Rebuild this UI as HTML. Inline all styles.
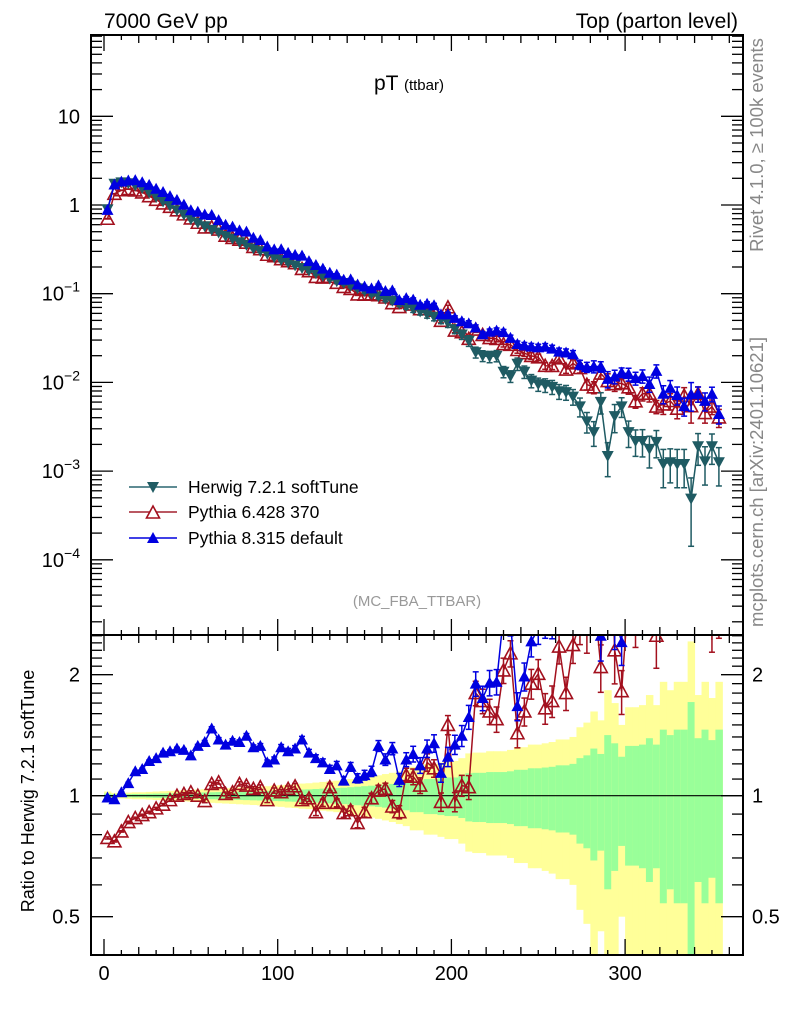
<!DOCTYPE html>
<html><head><meta charset="utf-8"><style>
html,body{margin:0;padding:0;background:#fff;width:786px;height:1024px;overflow:hidden}
svg{display:block;font-family:"Liberation Sans",sans-serif}
</style></head><body>
<svg id="chart" width="786" height="1024" viewBox="0 0 786 1024" xmlns="http://www.w3.org/2000/svg">
<defs>
<clipPath id="clipMain"><rect x="91" y="35" width="652" height="600"/></clipPath>
<clipPath id="clipRatio"><rect x="91" y="635" width="652" height="320"/></clipPath>
</defs>
<g id="bands" clip-path="url(#clipRatio)"></g>
<g id="ticks"></g>
<line x1="91" y1="795.7" x2="743" y2="795.7" stroke="#000" stroke-width="1.2"/>
<g id="mainMarks" clip-path="url(#clipMain)"></g>
<g id="ratioMarks" clip-path="url(#clipRatio)"></g>
<rect x="91" y="35" width="652" height="600" fill="none" stroke="#000" stroke-width="2"/>
<rect x="91" y="635" width="652" height="320" fill="none" stroke="#000" stroke-width="2"/>
<text x="104" y="28" font-size="21">7000 GeV pp</text>
<text x="738" y="28" font-size="21" text-anchor="end">Top (parton level)</text>
<text x="374" y="90" font-size="21">pT <tspan font-size="15">(ttbar)</tspan></text>
<text x="417" y="606" font-size="15" fill="#999" text-anchor="middle">(MC_FBA_TTBAR)</text>
<text transform="translate(763,145) rotate(-90)" font-size="18.5" fill="#888" text-anchor="middle">Rivet 4.1.0, ≥ 100k events</text>
<text transform="translate(763,482) rotate(-90)" font-size="18.5" fill="#888" text-anchor="middle">mcplots.cern.ch [arXiv:2401.10621]</text>
<text transform="translate(34,791) rotate(-90)" font-size="18" text-anchor="middle">Ratio to Herwig 7.2.1 softTune</text>
<g id="legend">
<g><line x1="129" y1="487" x2="177" y2="487" stroke="#2a6670" stroke-width="1.5"/><polygon points="147,482 159,482 153,493" fill="#1f5b63"/><text x="188" y="493" font-size="17.5">Herwig 7.2.1 softTune</text></g>
<g><line x1="129" y1="512" x2="177" y2="512" stroke="#a3202e" stroke-width="1.5"/><polygon points="153,506 146.5,518 159.5,518" fill="#fff" stroke="#a3101e" stroke-width="1.6"/><text x="188" y="518" font-size="17.5">Pythia 6.428 370</text></g>
<g><line x1="129" y1="538" x2="177" y2="538" stroke="#0000dd" stroke-width="1.5"/><polygon points="153,532 147,543 159,543" fill="#0000e0"/><text x="188" y="544" font-size="17.5">Pythia 8.315 default</text></g>
</g>
</svg>
<script>
const binCenters = [2,6,10,14,18,22,26,30,34,38,42,46,50,54,58,62,66,70,74,78,82,86,90,94,98,102,106,110,114,118,122,126,130,134,138,142,146,150,154,158,162,166,170,174,178,182,186,190,194,198,202,206,210,214,218,222,226,230,234,238,242,246,250,254,258,262,266,270,274,278,282,286,290,294,298,302,306,310,314,318,322,326,330,334,338,342,346,350,354];
const herwigLog = [-0.05,0.24,0.255,0.245,0.22,0.19,0.14,0.09,0.04,-0.01,-0.06,-0.11,-0.16,-0.20,-0.24,-0.28,-0.31,-0.35,-0.38,-0.42,-0.45,-0.49,-0.52,-0.55,-0.59,-0.62,-0.65,-0.68,-0.71,-0.74,-0.77,-0.80,-0.83,-0.86,-0.88,-0.91,-0.94,-0.97,-1.00,-1.03,-1.06,-1.08,-1.11,-1.14,-1.17,-1.20,-1.23,-1.26,-1.29,-1.33,-1.40,-1.46,-1.53,-1.66,-1.70,-1.71,-1.70,-1.88,-1.93,-1.79,-1.88,-1.98,-2.02,-2.03,-2.05,-2.10,-2.11,-2.16,-2.27,-2.44,-2.56,-2.22,-2.83,-2.38,-2.27,-2.56,-2.66,-2.66,-2.75,-2.67,-2.92,-2.90,-2.92,-2.92,-3.31,-2.72,-2.89,-2.72,-2.90];
const py6Ratio = [0.785,0.77,0.815,0.86,0.88,0.895,0.91,0.93,0.95,0.975,1.0,1.01,1.02,1.0,0.97,1.07,1.08,1.01,1.02,1.07,1.06,1.04,1.05,0.975,1.03,1.02,1.04,1.055,0.975,0.985,0.91,0.96,1.05,0.96,0.905,0.92,0.855,0.91,0.985,1.03,1.04,0.94,0.91,1.125,1.115,1.06,1.21,1.17,0.965,1.50,0.965,1.06,1.05,1.80,1.72,1.62,1.55,2.05,2.26,1.43,1.62,1.90,2.01,1.65,1.72,2.35,1.80,2.37,2.7,2.6,3.2,2.09,7.0,2.3,1.82,3.2,2.8,3.4,4.2,2.5,4.7,4.9,4.2,5.9,11,3.9,3.5,2.8,3.2];
const py8Ratio = [0.99,0.98,1.02,1.075,1.15,1.165,1.22,1.24,1.28,1.29,1.31,1.30,1.26,1.33,1.36,1.47,1.38,1.34,1.37,1.36,1.41,1.32,1.33,1.21,1.23,1.32,1.29,1.31,1.38,1.28,1.24,1.21,1.165,1.19,1.09,1.18,1.105,1.125,1.15,1.33,1.23,1.31,1.095,1.23,1.27,1.19,1.31,1.35,1.14,1.25,1.34,1.41,1.57,1.90,1.75,1.91,1.92,2.8,2.7,1.67,1.98,2.42,2.6,2.7,2.7,2.8,2.8,3.0,2.95,4.1,5.5,2.5,7.4,2.8,2.41,4.5,5.1,5.4,5.4,6.3,6.2,6.9,6.0,4.5,15,3.9,4.8,3.9,3.5];
const herwigRelErr = [0.012,0.008,0.008,0.009,0.01,0.01,0.011,0.012,0.013,0.014,0.015,0.016,0.017,0.018,0.019,0.02,0.021,0.022,0.023,0.024,0.025,0.026,0.027,0.028,0.03,0.031,0.033,0.034,0.036,0.037,0.039,0.041,0.043,0.045,0.047,0.05,0.053,0.056,0.059,0.062,0.066,0.07,0.075,0.08,0.09,0.09,0.10,0.10,0.105,0.11,0.11,0.12,0.137,0.14,0.14,0.145,0.145,0.145,0.15,0.16,0.16,0.17,0.17,0.175,0.18,0.19,0.19,0.2,0.24,0.26,0.31,0.27,0.415,0.35,0.25,0.33,0.33,0.34,0.39,0.34,0.46,0.415,0.46,0.46,0.71,0.39,0.46,0.375,0.46];
const pythiaErrScale = 0.5;
const binWidth = 4;
const xTickLabels = ["0","100","200","300"];
const xTickValues = [0,100,200,300];

const NS="http://www.w3.org/2000/svg";
const X = v => 104 + 1.737*v;
const YM = v => 205 - 88.7*Math.log10(v);
const YR = r => 795.7 - 121*Math.log2(r);
function mk(tag, attrs, parent){const e=document.createElementNS(NS,tag);for(const k in attrs)e.setAttribute(k,attrs[k]);parent.appendChild(e);return e;}

const herwig = herwigLog.map(l=>Math.pow(10,l));
const py6 = herwig.map((h,i)=>h*py6Ratio[i]);
const py8 = herwig.map((h,i)=>h*py8Ratio[i]);
const pyErr = herwigRelErr.map(e=>e*pythiaErrScale);
const clampR = y => Math.max(630, Math.min(955, y));
const clampM = y => Math.max(30, Math.min(640, y));

const bands=document.getElementById('bands');
binCenters.forEach((c,i)=>{
  const e=herwigRelErr[i];
  const x0=X(c-binWidth/2), x1=X(c+binWidth/2);
  const yhi2 = clampR(YR(1+2*e));
  const ylo2 = 1-2*e>0.01 ? clampR(YR(1-2*e)) : 955;
  const r1=mk('rect',{x:x0,y:yhi2,width:x1-x0+0.5,height:ylo2-yhi2,fill:'#ffff99'},bands);
  
  
  const yhi1 = clampR(YR(1+e)), ylo1 = clampR(YR(1-e));
  const r2=mk('rect',{x:x0,y:yhi1,width:x1-x0+0.5,height:ylo1-yhi1,fill:'#99ff99'},bands);
  
  
});

const tk=document.getElementById('ticks');
function tline(x1,y1,x2,y2){mk('line',{x1,y1,x2,y2,stroke:'#000','stroke-width':1.3},tk);}
for(let v=0; v<=360; v+=10){
  const x=X(v); const L = v%100===0?16:(v%20===0?8:5);
  tline(x,35,x,35+L); tline(x,635,x,635-L); tline(x,635,x,635+L); tline(x,955,x,955-L);
}
xTickValues.forEach((v,i)=>{
  const t=mk('text',{x:X(v),y:980,'font-size':20,'text-anchor':'middle'},tk);
  t.textContent=xTickLabels[i];
  
  
});
for(let d=-5; d<=1; d++){
  for(let m=1;m<=9;m++){
    const v=m*Math.pow(10,d); const y=YM(v);
    if(y<35||y>635) continue;
    const L = m===1?22:11;
    tline(91,y,91+L,y); tline(743,y,743-L,y);
  }
}
[[1,'1'],[10,'10']].forEach(([v,s])=>{const t=mk('text',{x:80,y:YM(v)+7,'font-size':20,'text-anchor':'end'},tk);t.textContent=s;
  
  });
[-1,-2,-3,-4].forEach(p=>{const t=mk('text',{x:80,y:YM(Math.pow(10,p))+7,'font-size':20,'text-anchor':'end'},tk);
  t.innerHTML='10<tspan dy="-9" font-size="14">−'+(-p)+'</tspan>';
  
  });
for(let r=0.4;r<=2.55;r+=0.1){
  const rr=Math.round(r*10)/10; const y=YR(rr);
  if(y<635||y>955) continue;
  const maj = (rr===0.5||rr===1||rr===2);
  const L = maj?22:11;
  tline(91,y,91+L,y); tline(743,y,743-L,y);
}
[[2,'2'],[1,'1'],[0.5,'0.5']].forEach(([v,s])=>{
  const t=mk('text',{x:80,y:YR(v)+7,'font-size':20,'text-anchor':'end'},tk);t.textContent=s;
  
  
  const t2=mk('text',{x:752,y:YR(v)+7,'font-size':20},tk);t2.textContent=s;
  
  
});

function marker(g,x,y,kind,color){
  let p;
  if(kind==='down') p=mk('polygon',{points:`${x-6},${y-5} ${x+6},${y-5} ${x},${y+6}`,fill:color},g);
  else if(kind==='upHollow') p=mk('polygon',{points:`${x},${y-6.5} ${x-6.5},${y+5.5} ${x+6.5},${y+5.5}`,fill:'none',stroke:color,'stroke-width':1.6},g);
  else p=mk('polygon',{points:`${x},${y-6} ${x-6},${y+5} ${x+6},${y+5}`,fill:color},g);
  return p;
}
function drawSeries(parentId,vals,errs,Yf,clamp,kind,color,name){
  const parent=document.getElementById(parentId);
  const g=mk('g',{},parent);
  
  
  const pts=binCenters.map((c,i)=>X(c).toFixed(1)+','+Yf(vals[i]).toFixed(1)).join(' ');
  mk('polyline',{points:pts,fill:'none',stroke:color,'stroke-width':1.5},g);
  binCenters.forEach((c,i)=>{
    const x=X(c), v=vals[i], e=errs[i]*v;
    const yt=clamp(Yf(v+e)), yb=clamp(Yf(Math.max(v-e,v*0.01)));
    mk('line',{x1:x,y1:yt,x2:x,y2:yb,stroke:color,'stroke-width':1.5},g);
    mk('line',{x1:x-3,y1:yt,x2:x+3,y2:yt,stroke:color,'stroke-width':1.5},g);
    mk('line',{x1:x-3,y1:yb,x2:x+3,y2:yb,stroke:color,'stroke-width':1.5},g);
    const y=Yf(v);
    if(y>clamp(-1e9)-10 && y<clamp(1e9)+10){
      const m=marker(g,x,y,kind,color);
      
      
    }
  });
}
drawSeries('mainMarks',py6,pyErr,YM,clampM,'upHollow','#a3101e','pythia6-series');
drawSeries('mainMarks',herwig,herwigRelErr,YM,clampM,'down','#1f5b63','herwig-series');
drawSeries('mainMarks',py8,pyErr,YM,clampM,'up','#0000e0','pythia8-series');
drawSeries('ratioMarks',py6Ratio,pyErr,YR,clampR,'upHollow','#a3101e','pythia6-ratio');
drawSeries('ratioMarks',py8Ratio,pyErr,YR,clampR,'up','#0000e0','pythia8-ratio');
</script>
</body></html>
